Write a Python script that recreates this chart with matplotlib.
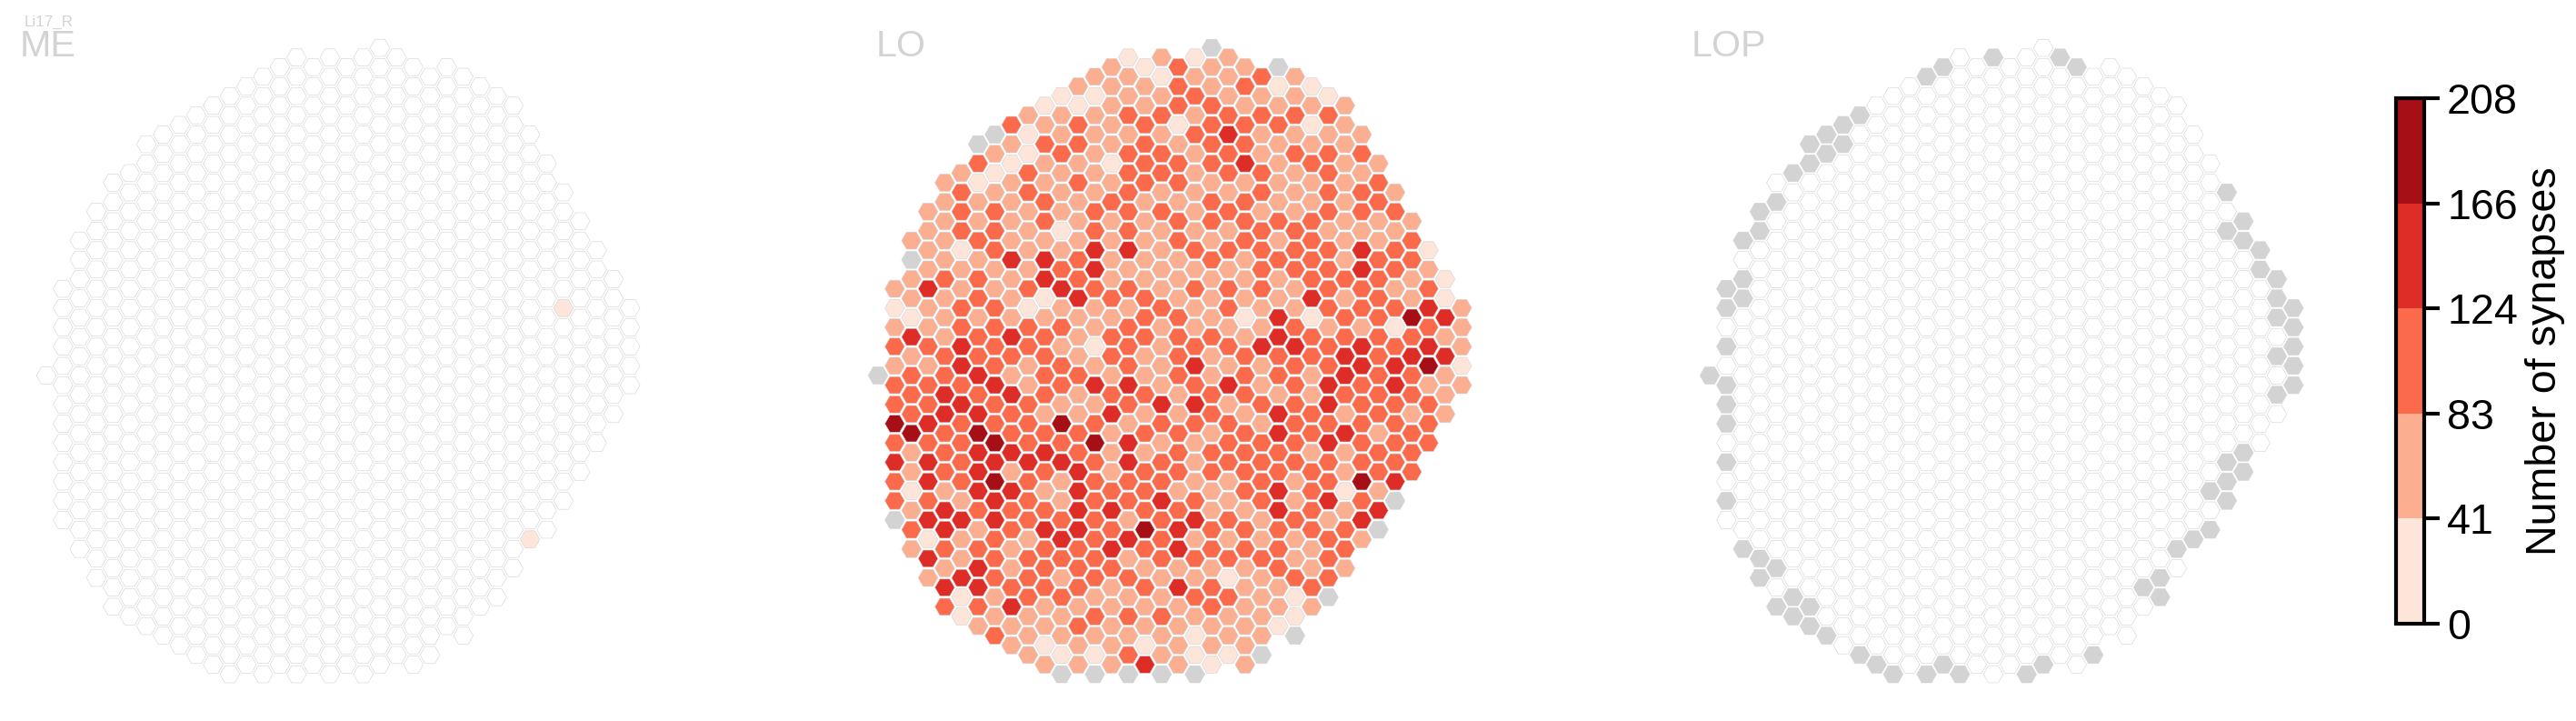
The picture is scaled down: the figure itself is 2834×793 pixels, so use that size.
"""Hex-column map of Li17_R synapse counts in ME, LO and LOP."""

import matplotlib
matplotlib.use("Agg")
import matplotlib.pyplot as plt
from matplotlib.cm import ScalarMappable
from matplotlib.colors import BoundaryNorm, ListedColormap

plt.rcParams["font.family"] = ["Liberation Sans", "DejaVu Sans"]

W, H, DPI = 2834, 793, 300

# hex grid shared by all neuropils: first and last half-row in every column
COL_START = [0, -9, -14, -17, -20, -21, -24, -25, -26, -27, -28, -29, -30, -31, -32, -33, -32, -33,
             -32, -33, -34, -33, -32, -31, -32, -31, -30, -29, -28, -25, -22, -19, -16, -13, -10, -7]
COL_END = [0, 15, 18, 21, 24, 25, 26, 27, 28, 29, 30, 31, 30, 31, 30, 31, 30, 31,
           30, 31, 30, 29, 30, 29, 26, 27, 24, 23, 20, 17, 16, 13, 10, 7, 4, 1]

# colour bin of each LO cell, column by column (0 = grey, no data)
LO_LEVELS = [
    "0",
    "2 1 2 3 2 3 3 5 3 4 3 3 0",
    "2 0 2 2 1 4 2 3 3 3 5 2 2 1 2 3 2",
    "2 2 2 2 4 2 2 3 2 3 3 4 3 4 4 3 4 1 4 2",
    "2 2 2 2 2 3 2 2 2 3 3 4 4 3 3 3 2 4 4 3 2 4 3",
    "2 3 3 3 1 2 2 3 3 4 4 3 4 3 3 3 3 2 4 2 2 4 1 1",
    "0 3 1 2 2 3 2 3 3 2 3 3 4 3 4 5 4 4 4 3 2 3 4 4 3 2",
    "0 2 1 2 3 3 3 2 2 3 3 3 3 4 3 3 5 4 5 4 4 3 3 3 2 2 3",
    "3 2 1 2 2 2 2 4 2 2 2 4 3 2 4 3 3 4 2 4 3 3 2 2 3 4 2 2",
    "2 1 1 3 3 2 2 2 2 3 1 3 3 2 2 3 3 3 4 3 3 3 2 3 3 3 2 2 2",
    "1 2 3 2 2 3 3 2 4 4 1 2 3 3 3 3 2 3 4 3 2 3 4 3 3 3 2 2 1 2",
    "1 2 2 3 2 2 2 1 2 3 4 2 3 2 3 3 2 5 3 4 2 2 3 4 3 2 3 2 2 1 0",
    "2 1 3 3 2 3 2 2 2 3 3 4 2 2 2 3 2 2 3 3 4 4 4 4 3 3 3 2 3 2 2",
    "2 1 2 2 2 2 2 3 3 4 4 3 2 2 1 2 4 2 3 5 3 3 3 3 3 3 3 2 3 2 1 0",
    "2 2 2 2 2 1 2 3 2 2 2 2 3 2 3 3 2 3 4 2 2 2 3 4 3 4 3 2 2 2 2 2",
    "1 2 2 3 2 3 3 3 3 3 4 2 3 2 3 3 3 4 3 2 4 4 3 3 2 4 2 3 2 3 2 3 0",
    "1 2 2 3 3 3 3 2 2 2 2 2 3 3 3 2 2 3 2 3 2 3 3 3 5 3 2 3 2 2 1 4",
    "2 1 2 3 2 3 3 2 3 2 2 2 2 3 2 2 2 2 4 3 2 3 3 4 3 3 3 2 2 3 2 2 0",
    "3 3 3 1 2 3 3 2 3 3 2 2 2 3 3 3 3 2 2 3 3 3 2 3 4 4 2 4 2 2 2 2",
    "1 2 3 2 3 2 2 2 2 2 3 2 3 2 2 3 4 3 4 3 2 2 2 3 4 2 3 2 3 2 1 1 0",
    "0 2 2 3 3 3 3 2 3 3 2 3 2 2 2 3 2 2 3 3 2 3 3 2 2 3 3 2 3 3 2 2 1",
    "2 2 2 3 4 3 3 2 3 2 3 2 3 3 2 3 2 4 2 3 3 3 2 2 3 2 3 1 3 2 2 1",
    "2 3 2 3 3 4 2 3 3 3 2 2 2 1 2 3 3 3 2 3 3 3 3 2 3 3 2 2 2 2 2 2",
    "3 2 3 2 2 3 3 2 3 3 3 3 2 2 4 2 2 3 2 3 3 3 3 2 2 3 2 2 2 2 0",
    "0 1 2 3 2 2 2 2 3 2 3 2 2 4 4 3 3 2 4 4 3 3 4 4 3 3 3 2 2 1",
    "2 2 3 2 3 2 2 2 3 3 3 2 2 3 4 3 3 3 3 3 3 2 2 3 2 2 3 1 1 0",
    "1 2 1 2 3 2 2 3 3 3 3 4 1 3 3 2 2 3 3 2 3 3 3 3 2 2 3 2",
    "1 3 2 3 3 3 3 2 3 3 3 3 2 3 3 4 4 3 4 3 3 4 2 3 3 3 0",
    "2 2 2 2 2 2 2 2 2 3 2 3 3 4 4 3 2 4 2 2 1 2 3 3 2",
    "2 3 2 3 3 2 4 4 3 3 2 4 4 3 3 3 3 3 5 3 4 2",
    "2 3 3 2 2 3 3 3 3 3 3 3 3 3 2 3 3 2 4 0",
    "2 3 2 3 3 2 3 1 3 4 4 3 3 3 3 4 0",
    "2 3 3 2 2 5 3 4 3 3 2 3 3 3",
    "1 2 3 4 3 4 5 2 3 3 3",
    "1 1 4 2 4 2 2 2",
    "2 2 2 1 2",
]

# ME and LOP are empty apart from these (column, half-row) cells
ME_TINTED = [(31, -7), (29, 17)]
LOP_GREY = [(0, 0), (1, -9), (1, -7), (1, -3), (1, 1), (1, 3), (1, 5), (1, 9), (1, 13),
            (2, -14), (2, -10), (2, -8), (2, 18),
            (3, -17), (3, -15), (3, 19), (3, 21), (4, -18), (4, 20), (4, 24), (5, -21), (5, 23), (5, 25),
            (6, -24), (6, -22), (6, 24), (6, 26), (7, -25), (7, -23), (7, 27), (8, -26), (8, -24),
            (9, -27), (9, 29), (10, 30), (11, 31), (13, -31), (13, 31), (14, -32), (14, 30), (15, 31),
            (17, -33), (19, 31), (20, 30), (21, -33), (22, -32), (23, 29), (26, 22), (27, 21), (27, 23),
            (28, 18), (29, 17), (30, 12), (30, 16), (31, -19), (31, -15), (31, 9), (31, 11), (31, 13),
            (32, -16), (32, -14), (32, 8), (32, 10), (33, -13), (33, -11), (34, -10), (34, -8), (34, -6),
            (34, -2), (34, 2), (35, -7), (35, -5), (35, -3), (35, -1), (35, 1)]

CBAR_TICKS = [0, 41.6, 83.2, 124.8, 166.4, 208]
CBAR_LABELS = ["0", "41", "83", "124", "166", "208"]
BIN_COLORS = ["#fee5d9", "#fcae91", "#fb6a4a", "#de2d26", "#a50f15"]
GREY = "#d3d3d3"
EDGE = "#d3d3d3"

# pixel position of column 0 / half-row 0 in each panel
PANEL_X0 = {"ME": 51.0, "LO": 966.0, "LOP": 1881.0}
ROW_Y0 = 413.0
COL_DX, ROW_DY = 18.35, 10.6


def cells_from_levels(levels):
    """Return x, y, colour lists from per-column bin strings."""
    xs, ys, cols = [], [], []
    for k, col in enumerate(levels):
        for h, v in zip(range(COL_START[k], COL_END[k] + 1, 2), col.split()):
            xs.append(k)
            ys.append(h)
            cols.append(GREY if v == "0" else BIN_COLORS[int(v) - 1])
    return xs, ys, cols


def cells_blank(special, colour):
    """All grid cells white, apart from the special ones."""
    xs, ys, cols = [], [], []
    for k in range(len(COL_START)):
        for h in range(COL_START[k], COL_END[k] + 1, 2):
            xs.append(k)
            ys.append(h)
            cols.append(colour if (k, h) in special else "white")
    return xs, ys, cols


def add_panel(fig, name, cells):
    x0 = PANEL_X0[name]
    left, right = x0 - COL_DX, x0 + 36 * COL_DX
    top, bottom = ROW_Y0 - 36 * ROW_DY, ROW_Y0 + 33 * ROW_DY
    ax = fig.add_axes([left / W, 1 - bottom / H, (right - left) / W, (bottom - top) / H])
    ax.set_xlim(-1, 36)
    ax.set_ylim(33, -36)
    ax.axis("off")
    xs, ys, cols = cells
    ax.scatter(xs, ys, s=27, marker="H", c=cols, edgecolors=EDGE, linewidths=0.14, clip_on=False)


fig = plt.figure(figsize=(W / DPI, H / DPI), dpi=DPI)

add_panel(fig, "ME", cells_blank(ME_TINTED, BIN_COLORS[0]))
add_panel(fig, "LO", cells_from_levels(LO_LEVELS))
add_panel(fig, "LOP", cells_blank(LOP_GREY, GREY))

# panel names sit on a common baseline
for name, px in [("ME", 22), ("LO", 964), ("LOP", 1861)]:
    fig.text(px / W, 1 - 62 / H, name, fontsize=9.9, color="lightgrey", va="baseline")
fig.text(27 / W, 1 - 29 / H, "Li17_R", fontsize=4.1, color="lightgrey", va="baseline")

# colourbar
cax = fig.add_axes([2636 / W, 1 - 686 / H, 31 / W, 578 / H])
cmap = ListedColormap(BIN_COLORS)
norm = BoundaryNorm(CBAR_TICKS, cmap.N)
cbar = fig.colorbar(ScalarMappable(norm=norm, cmap=cmap), cax=cax, ticks=CBAR_TICKS)
cbar.ax.set_yticklabels(CBAR_LABELS, fontsize=11.2)
cbar.ax.tick_params(width=1, length=4, pad=2)
cbar.outline.set_linewidth(1)
cbar.set_label("Number of synapses", fontsize=11.2, labelpad=2)

fig.savefig("out.png", dpi=DPI)
